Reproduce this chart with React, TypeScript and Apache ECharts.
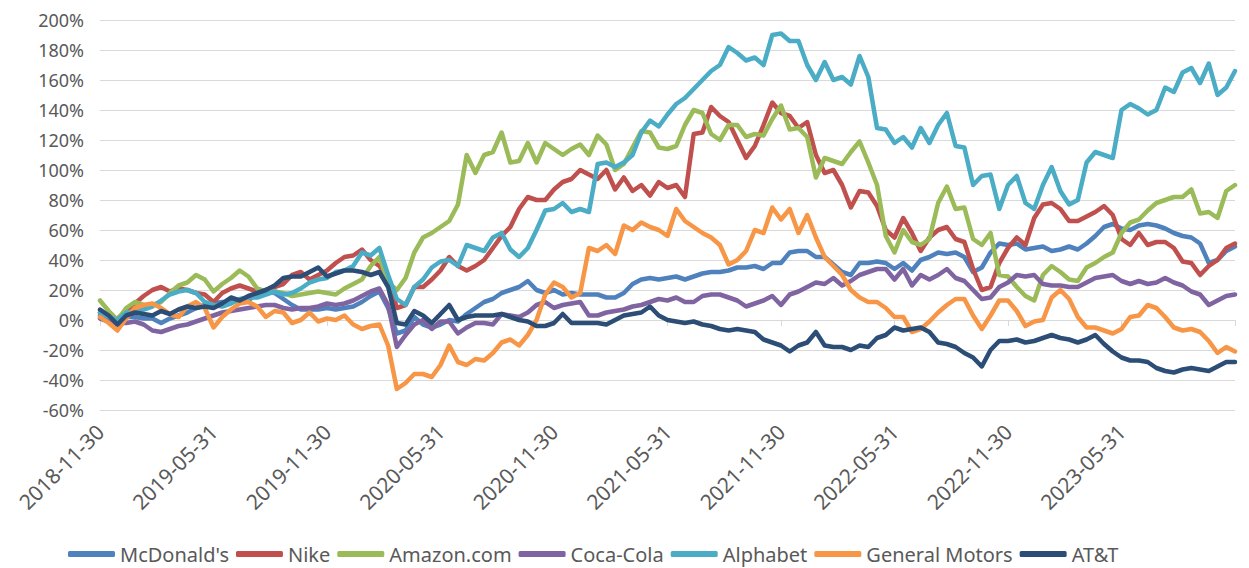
import React, { useEffect, useRef } from "react";
import * as echarts from "echarts";

const seriesNames = ["McDonald's", "Nike", "Amazon.com", "Coca-Cola", "Alphabet", "General Motors", "AT&T"];
const seriesColors = ["#4F81BD", "#C0504D", "#9BBB59", "#8064A2", "#4BACC6", "#F79646", "#2C4D75"];

const tickLabels = [
  "2018-11-30", "2019-05-31", "2019-11-30", "2020-05-31", "2020-11-30",
  "2021-05-31", "2021-11-30", "2022-05-31", "2022-11-30", "2023-05-31",
];

const mcdonalds = [3,0,-3,2,2,1,1,-2,1,3,
5,8,10,11,12,12,13,13,18,20,
18,14,10,7,7,7,8,7,8,9,
12,16,19,8,-9,-7,2,-3,-5,-3,
0,-1,4,8,12,14,18,20,22,26,
20,18,20,17,18,17,17,17,15,15,
18,24,27,28,27,28,29,27,29,31,
32,32,33,35,35,36,34,38,38,45,
46,46,42,42,37,32,30,38,38,39,
38,34,38,33,40,42,45,44,45,42,
32,35,45,51,50,51,47,48,49,46,
47,49,47,51,56,62,64,61,60,63,
64,63,61,58,56,55,51,38,40,46,
49];

const nike = [5,2,1,6,11,16,20,22,19,21,
20,18,17,12,18,21,23,21,19,20,
22,24,30,32,27,30,33,38,42,43,
47,40,36,28,8,10,22,22,27,33,
42,36,33,36,40,48,56,62,74,82,
80,80,87,92,94,100,97,94,100,87,
95,86,90,83,92,88,90,82,124,125,
142,136,132,120,108,116,130,145,138,136,
128,132,110,98,100,90,75,86,85,76,
60,55,68,58,46,55,60,62,54,52,
34,20,22,38,48,55,50,68,77,78,
74,66,66,69,72,76,70,54,50,58,
50,52,52,48,39,38,30,36,40,48,
51];

const amazon = [13,6,0,8,12,10,10,12,18,23,
25,30,27,19,24,28,33,29,21,19,
19,18,16,17,18,19,18,17,21,24,
27,36,42,25,20,28,45,55,58,62,
66,77,110,98,110,112,125,105,106,118,
105,118,114,110,114,117,110,123,117,100,
104,115,126,125,115,114,116,130,140,138,
124,120,130,130,122,124,123,134,143,127,
128,122,95,108,106,104,112,119,105,90,
56,45,60,52,50,54,78,89,74,75,
54,50,58,30,29,22,16,13,30,36,
32,27,26,35,38,42,45,58,65,67,
73,78,80,82,82,87,71,72,68,86,
90];

const cocaCola = [1,-1,-2,-2,-1,-3,-7,-8,-6,-4,
-3,-1,1,3,5,6,7,8,9,10,
10,8,7,8,8,9,11,10,11,13,
16,19,21,10,-18,-10,-3,0,-6,-1,
-1,-9,-5,-2,-2,-3,4,3,2,5,
10,12,8,10,11,12,3,3,5,6,
7,9,10,12,14,13,15,12,12,16,
17,17,15,13,9,11,13,16,10,17,
19,22,25,24,28,23,26,30,32,34,
34,27,34,23,30,27,30,34,28,26,
20,14,15,22,25,30,29,30,24,23,
23,22,22,25,28,29,30,26,24,26,
24,25,28,25,23,19,17,10,13,16,
17];

const alphabet = [5,2,0,5,6,7,9,13,17,19,
20,18,12,10,9,11,14,15,15,17,
19,17,18,21,25,27,28,32,33,36,
45,43,48,30,14,10,22,27,35,39,
40,36,50,48,46,55,58,47,42,48,
60,73,74,78,72,74,72,104,105,102,
105,110,125,133,129,137,144,148,154,160,
166,170,182,178,173,175,170,190,191,186,
186,170,160,172,160,162,157,176,162,128,
127,118,122,115,128,118,130,138,116,115,
90,96,97,74,90,96,78,74,90,102,
86,77,80,105,112,110,108,140,144,141,
137,140,155,152,165,168,158,171,150,155,
166];

const generalMotors = [2,-2,-7,1,8,10,11,8,4,2,
9,12,8,-5,2,7,11,12,9,2,
6,5,-2,0,5,-1,1,0,3,-3,
-6,-4,-3,-17,-46,-42,-36,-36,-38,-30,
-17,-28,-30,-26,-27,-22,-15,-13,-17,-10,
0,17,25,22,15,18,48,46,50,44,
63,60,65,62,60,56,74,66,62,58,
55,50,37,40,46,60,58,75,67,74,
58,70,55,42,36,30,20,15,12,12,
8,2,2,-8,-6,-1,5,10,14,14,
3,-6,3,13,13,6,-4,-1,0,15,
20,14,2,-5,-5,-7,-9,-6,2,3,
10,8,2,-5,-7,-6,-8,-14,-22,-18,
-21];

const att = [7,3,-3,3,5,4,3,6,4,7,
9,8,9,8,11,15,13,16,18,20,
23,28,29,29,32,35,29,31,33,33,
32,30,32,22,-2,-3,6,3,-2,4,
10,0,2,3,3,3,4,2,0,-1,
-4,-4,-2,4,-2,-2,-2,-2,-3,0,
3,4,5,9,3,0,-1,-2,-1,-3,
-4,-6,-7,-6,-7,-8,-13,-15,-17,-21,
-17,-15,-8,-17,-18,-18,-20,-17,-18,-12,
-10,-5,-7,-6,-5,-8,-15,-16,-18,-22,
-25,-31,-20,-14,-14,-13,-15,-14,-12,-10,
-12,-13,-15,-13,-10,-16,-21,-25,-27,-27,
-28,-32,-34,-35,-33,-32,-33,-34,-31,-28,
-28];

const allSeries = [mcdonalds, nike, amazon, cocaCola, alphabet, generalMotors, att];

// bi-weekly date categories starting 2018-11-30
const categories: string[] = (() => {
  const out: string[] = [];
  const start = Date.UTC(2018, 10, 30);
  for (let i = 0; i < mcdonalds.length; i++) {
    const d = new Date(start + i * 14 * 86400000);
    out.push(d.toISOString().slice(0, 10));
  }
  return out;
})();

const FONT = "'Noto Sans', sans-serif";

export default function App() {
  const ref = useRef<HTMLDivElement>(null);
  useEffect(() => {
    document.body.style.margin = "0";
    if (!ref.current) return;
    const chart = echarts.init(ref.current, undefined, { renderer: "svg" });
    const option: any = {
      animation: false,
      textStyle: { fontFamily: FONT },
      grid: { left: 100, right: 14, top: 20, bottom: 158, containLabel: false },
      legend: {
        left: 63,
        top: 539,
        icon: "roundRect",
        itemWidth: 47,
        itemHeight: 6,
        itemGap: 7,
        data: seriesNames,
        textStyle: { color: "#595959", fontSize: 20, fontFamily: FONT },
      },
      xAxis: [
        {
          type: "category",
          data: categories,
          boundaryGap: false,
          position: "bottom",
          axisLine: { show: false, onZero: false },
          axisTick: { show: false },
          splitLine: { show: false },
          axisLabel: {
            interval: 12,
            rotate: 45,
            margin: 18,
            color: "#595959",
            fontSize: 21,
            fontFamily: FONT,
            formatter: (_v: string, idx: number) => {
              const k = idx / 13;
              return Number.isInteger(k) && k < tickLabels.length ? tickLabels[k] : "";
            },
          },
        },
        {
          type: "category",
          data: categories,
          boundaryGap: false,
          position: "bottom",
          axisLine: { show: true, onZero: true, lineStyle: { color: "#D9D9D9", width: 1 } },
          axisTick: { show: true, interval: 12, length: 6, lineStyle: { color: "#D9D9D9" } },
          axisLabel: { show: false },
          splitLine: { show: false },
        },
      ],
      yAxis: {
        type: "value",
        min: -60,
        max: 200,
        interval: 20,
        axisLine: { show: false },
        axisTick: { show: false },
        axisLabel: {
          formatter: "{value}%",
          color: "#595959",
          fontSize: 18,
          fontFamily: FONT,
          margin: 16,
        },
        splitLine: { lineStyle: { color: "#D9D9D9", width: 1 } },
      },
      series: seriesNames.map((name, k) => ({
        name,
        type: "line",
        xAxisIndex: 0,
        data: allSeries[k],
        symbol: "none",
        showSymbol: false,
        color: seriesColors[k],
        lineStyle: { width: 4.5, color: seriesColors[k], join: "round", cap: "round" },
        itemStyle: { color: seriesColors[k] },
      })),
    };
    chart.setOption(option);
    return () => chart.dispose();
  }, []);
  return <div ref={ref} style={{ width: 1249, height: 568 }} />;
}
